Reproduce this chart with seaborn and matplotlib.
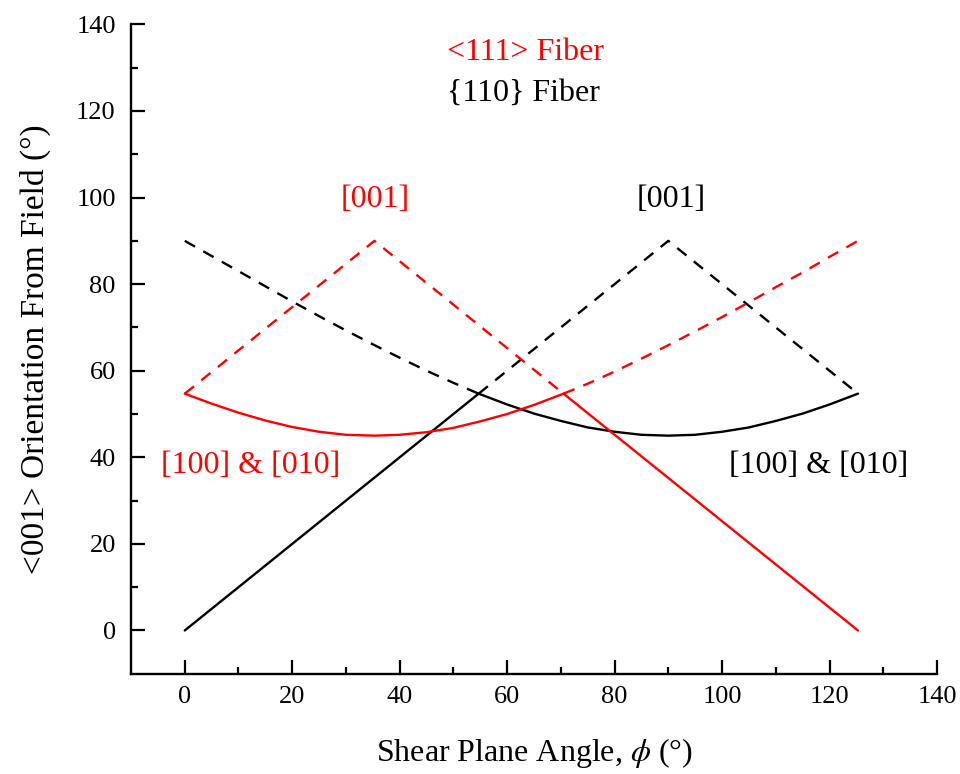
import matplotlib
matplotlib.use("Agg")
import matplotlib.pyplot as plt
import seaborn as sns
import pandas as pd

sns.set_style("ticks", {"axes.edgecolor": "black", "text.color": "black",
                        "axes.labelcolor": "black", "xtick.color": "black",
                        "ytick.color": "black"})
plt.rcParams["font.family"] = ["Liberation Serif", "DejaVu Serif"]
plt.rcParams["mathtext.fontset"] = "stix"

# {110} fiber: [001] axis and the [100] & [010] pair
f110_001_x = [0, 54.7, 90, 125.3]
f110_001_y = [0, 54.7, 90, 54.7]
f110_100_x = [0, 5, 10, 15, 20, 25, 30, 35, 40, 45, 50, 54.7, 60, 65, 70, 75, 80, 85, 90,
              95, 100, 105, 110, 115, 120, 125.3]
f110_100_y = [90, 86.5, 83.0, 79.5, 76.0, 72.6, 69.3, 66.1, 63.0, 60.0, 57.2, 54.7, 52.2, 50.1,
              48.4, 46.9, 45.9, 45.2, 45.0, 45.2, 45.9, 46.9, 48.4, 50.1, 52.2, 54.7]

# <111> fiber: [001] axis and the [100] & [010] pair
f111_001_x = [0, 35.3, 70.5, 125.3]
f111_001_y = [54.7, 90, 54.7, 0]
f111_100_x = [0, 5, 10, 15, 20, 25, 30, 35.3, 40, 45, 50, 55, 60, 65, 70.5, 75, 80, 85, 90,
              95, 100, 105, 110, 115, 120, 125.3]
f111_100_y = [54.7, 52.4, 50.3, 48.5, 47.0, 45.9, 45.2, 45.0, 45.2, 45.8, 46.8, 48.3, 50.0, 52.1,
              54.7, 57.0, 59.8, 62.8, 65.9, 69.1, 72.4, 75.8, 79.3, 82.7, 86.3, 90]

# crossing points where the nearest <001> axis switches
f110_switch = 54.7
f111_switch = 70.5

RED = "#ff0000"
BLACK = "#000000"


def split(xs, ys, cut):
    lo = pd.DataFrame({"x": [x for x in xs if x <= cut], "y": [y for x, y in zip(xs, ys) if x <= cut]})
    hi = pd.DataFrame({"x": [x for x in xs if x >= cut], "y": [y for x, y in zip(xs, ys) if x >= cut]})
    return lo, hi


fig = plt.figure(figsize=(9.6, 7.74), dpi=100)
ax = fig.add_axes([0.1365, 0.1295, 0.8395, 0.839])

lw = 1.7
dash = (5, 4)


def draw(df, color, dashed):
    sns.lineplot(data=df, x="x", y="y", ax=ax, color=color, lw=lw, sort=False,
                 estimator=None, legend=False)
    if dashed:
        ax.lines[-1].set_dashes(dash)


# {110} fiber (black)
lo, hi = split(f110_001_x, f110_001_y, f110_switch)
draw(lo, BLACK, False)
draw(hi, BLACK, True)
lo, hi = split(f110_100_x, f110_100_y, f110_switch)
draw(lo, BLACK, True)
draw(hi, BLACK, False)

# <111> fiber (red)
lo, hi = split(f111_001_x, f111_001_y, f111_switch)
draw(lo, RED, True)
draw(hi, RED, False)
lo, hi = split(f111_100_x, f111_100_y, f111_switch)
draw(lo, RED, False)
draw(hi, RED, True)

ax.set_xlim(-10, 140)
ax.set_ylim(-10, 140)
ax.set_xticks(range(0, 141, 20))
ax.set_yticks(range(0, 141, 20))
ax.set_xticks(range(10, 140, 20), minor=True)
ax.set_yticks(range(10, 140, 20), minor=True)
ax.tick_params(which="major", direction="in", length=10, width=1.6, labelsize=19,
               color="black", labelcolor="black")
ax.tick_params(which="minor", direction="in", length=5, width=1.6, color="black")
ax.tick_params(axis="x", which="major", pad=9)
ax.tick_params(axis="y", which="major", pad=11)
for s in ("top", "right"):
    ax.spines[s].set_visible(False)
for s in ("left", "bottom"):
    ax.spines[s].set_linewidth(1.7)
    ax.spines[s].set_color("black")

ax.set_xlabel(r"Shear Plane Angle, $\phi$ (°)", fontsize=23, labelpad=20, color="black")
ax.set_ylabel("<001> Orientation From Field (°)", fontsize=24, labelpad=18, color="black")

tk = dict(fontsize=23, ha="center", va="center")
ax.text(63.5, 133.5, "<111> Fiber", color=RED, **tk)
ax.text(63, 124, "{110} Fiber", color=BLACK, **tk)
ax.text(35.5, 99.5, "[001]", color=RED, **tk)
ax.text(90.5, 99.5, "[001]", color=BLACK, **tk)
ax.text(12.3, 38.2, "[100] & [010]", color=RED, **tk)
ax.text(118, 38.2, "[100] & [010]", color=BLACK, **tk)

fig.savefig("out.png", dpi=100)
